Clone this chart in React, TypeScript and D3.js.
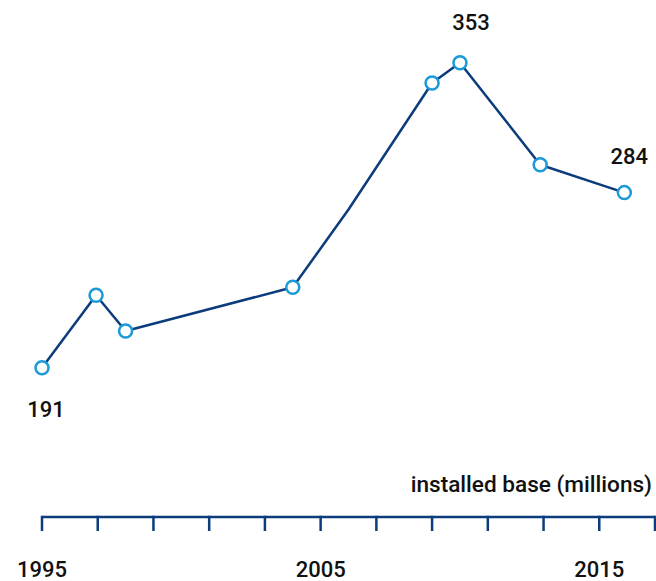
import React from "react";
import * as d3 from "d3";

const years = [1995, 1996.94, 1998, 2004, 2006, 2009, 2010, 2012.88, 2015.9];
const values = [191, 229.5, 210.5, 233.7, 275, 342.2, 353, 298.8, 284];
const markerShown = [true, true, true, true, false, true, true, true, true];
const labelText = ["191", "", "", "", "", "", "353", "", "284"];
const tickYears = d3.range(1995, 2018, 2);
const tickLabels = ["1995", "2005", "2015"];
const axisTitle = "installed base (millions)";

const W = 656;
const H = 581;
const NAVY = "#0c3c7c";
const BLUE = "#1a9ad8";
const FONT = "Roboto, 'Noto Sans', sans-serif";

export default function App() {
  const x = d3.scaleLinear().domain([1995, 2017]).range([42, 655]);
  const y = d3.scaleLinear().domain([191, 353]).range([367.7, 62.7]);
  const axisY = 517;

  const line = d3
    .line<number>()
    .x((_, i) => x(years[i]))
    .y((d) => y(d));

  const labelOffset = (i: number) => {
    if (i === 0) return { dx: 4, dy: 49 };
    if (i === 6) return { dx: 11, dy: -33 };
    return { dx: 5, dy: -29 };
  };

  return (
    <svg
      width={W}
      height={H}
      style={{ position: "absolute", left: 0, top: 0, background: "#fff" }}
    >
      <path d={line(values) || ""} fill="none" stroke={NAVY} strokeWidth={2.5} strokeLinejoin="round" />
      {values.map((v, i) =>
        markerShown[i] ? (
          <circle key={i} cx={x(years[i])} cy={y(v)} r={6.5} fill="#fff" stroke={BLUE} strokeWidth={2.5} />
        ) : null
      )}
      {values.map((v, i) => {
        if (!labelText[i]) return null;
        const o = labelOffset(i);
        return (
          <text
            key={"l" + i}
            x={x(years[i]) + o.dx}
            y={y(v) + o.dy}
            textAnchor="middle"
            fontFamily={FONT}
            fontWeight={500}
            fontSize={22}
            fill="#111"
          >
            {labelText[i]}
          </text>
        );
      })}
      <text
        x={652}
        y={492}
        textAnchor="end"
        fontFamily={FONT}
        fontWeight={500}
        fontSize={22.6}
        fill="#111"
      >
        {axisTitle}
      </text>
      <line x1={x(1995)} x2={x(2017)} y1={axisY} y2={axisY} stroke={NAVY} strokeWidth={2.5} />
      {tickYears.map((t) => (
        <line key={t} x1={x(t)} x2={x(t)} y1={axisY - 1.25} y2={axisY + 14} stroke={NAVY} strokeWidth={2.5} />
      ))}
      {tickLabels.map((t) => (
        <text
          key={t}
          x={x(+t)}
          y={577}
          textAnchor="middle"
          fontFamily={FONT}
          fontWeight={500}
          fontSize={22}
          fill="#111"
        >
          {t}
        </text>
      ))}
    </svg>
  );
}
